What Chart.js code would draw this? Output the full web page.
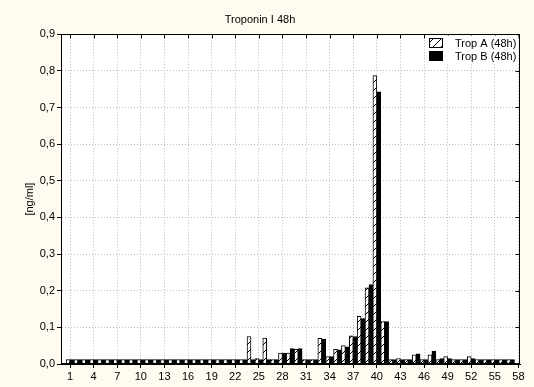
<!DOCTYPE html>
<html>
<head>
<meta charset="utf-8">
<script src="https://cdn.jsdelivr.net/npm/chart.js@4.4.1/dist/chart.umd.min.js"></script>
<style>
  html, body { margin: 0; padding: 0; background: #fffbf0; }
  #marcoGrafico { width: 534px; height: 387px; }
</style>
</head>
<body>
<div id="marcoGrafico"><canvas id="troponina" width="534" height="387"></canvas></div>
<script>
// datos
const pacientes = [
  1, 2, 3, 4, 5, 6, 7, 8, 9, 10, 11, 12, 13, 14, 15, 16, 17, 18, 19, 20,
  21, 22, 23, 24, 25, 26, 27, 28, 29, 30, 31, 32, 33, 34, 35, 36, 37, 38, 39, 40,
  41, 42, 43, 44, 45, 46, 47, 48, 49, 50, 51, 52, 53, 54, 55, 56, 57,
];
const tropA = [
  0.012, 0.012, 0.012, 0.012, 0.012, 0.012, 0.012, 0.012, 0.012, 0.012,
  0.012, 0.012, 0.012, 0.012, 0.012, 0.012, 0.012, 0.012, 0.012, 0.012,
  0.012, 0.012, 0.012, 0.075, 0.015, 0.071, 0.012, 0.03, 0.03, 0.04,
  0.012, 0.012, 0.07, 0.02, 0.04, 0.05, 0.077, 0.13, 0.208, 0.787,
  0.116, 0.012, 0.015, 0.012, 0.025, 0.012, 0.025, 0.012, 0.02, 0.012,
  0.012, 0.02, 0.012, 0.012, 0.012, 0.012, 0.012,
];
const tropB = [
  0.012, 0.012, 0.012, 0.012, 0.012, 0.012, 0.012, 0.012, 0.012, 0.012,
  0.012, 0.012, 0.012, 0.012, 0.012, 0.012, 0.012, 0.012, 0.012, 0.012,
  0.012, 0.012, 0.012, 0.012, 0.012, 0.012, 0.012, 0.03, 0.042, 0.042,
  0.012, 0.012, 0.068, 0.02, 0.039, 0.047, 0.075, 0.124, 0.217, 0.743,
  0.116, 0.012, 0.012, 0.012, 0.028, 0.012, 0.035, 0.015, 0.015, 0.012,
  0.012, 0.015, 0.012, 0.012, 0.012, 0.012, 0.012,
];
const ticksX = [1, 4, 7, 10, 13, 16, 19, 22, 25, 28, 31, 34, 37, 40, 43, 46, 49, 52, 55, 58];
const ticksY = ["0,0", "0,1", "0,2", "0,3", "0,4", "0,5", "0,6", "0,7", "0,8", "0,9"];

Chart.defaults.font.family = "'Liberation Sans', Arial, sans-serif";
Chart.defaults.font.size = 11;
Chart.defaults.color = "#000";

function rayado() {
  let c = document.createElement("canvas");
  c.width = 8;
  c.height = 8;
  let g = c.getContext("2d");
  g.fillStyle = "#fff";
  g.fillRect(0, 0, 8, 8);
  g.strokeStyle = "#000";
  g.lineWidth = 1;
  g.beginPath();
  g.moveTo(0, 8);
  g.lineTo(8, 0);
  g.stroke();
  return g.createPattern(c, "repeat");
}
const patronA = rayado();

// fondo blanco del area, marco completo y marcas interiores
const marco = {
  id: "marco",
  beforeDraw(chart) {
    let { ctx, chartArea: a } = chart;
    ctx.save();
    ctx.fillStyle = "#fff";
    ctx.fillRect(a.left, a.top, a.width, a.height);
    ctx.restore();
  },
  afterDraw(chart) {
    let { ctx, chartArea: a, scales } = chart;
    let l = Math.round(a.left) + 0.5;
    let t = Math.round(a.top) + 0.5;
    let r = Math.round(a.right) - 0.5;
    let b = Math.round(a.bottom) - 0.5;
    ctx.save();
    ctx.strokeStyle = "#000";
    ctx.lineWidth = 1;
    ctx.strokeRect(l, t, r - l, b - t);
    ctx.beginPath();
    ticksX.forEach((v) => {
      let x = Math.round(scales.x.getPixelForValue(v)) + 0.5;
      ctx.moveTo(x, t);
      ctx.lineTo(x, t + 4);
    });
    ticksY.forEach((s, i) => {
      let y = Math.round(scales.y.getPixelForValue(i / 10)) + 0.5;
      ctx.moveTo(r, y);
      ctx.lineTo(r - 4, y);
    });
    ctx.stroke();

    // leyenda
    let x0 = 428;
    ctx.fillStyle = "#fff";
    ctx.fillRect(x0 - 2, t + 1, r - x0 + 1, 28);
    chart.data.datasets.forEach((ds, i) => {
      let y = Math.round(t) + 3 + i * 13;
      ctx.fillStyle = ds.backgroundColor;
      ctx.fillRect(x0 + 1, y, 14, 10);
      ctx.strokeRect(x0 + 1.5, y + 0.5, 13, 9);
      ctx.fillStyle = "#000";
      ctx.font = "11px 'Liberation Sans', Arial, sans-serif";
      ctx.textBaseline = "middle";
      ctx.fillText(ds.label, x0 + 27, y + 5.5);
    });
    ctx.restore();
  },
};

function cargarGrafico() {
  let canvas = document.getElementById("troponina");

  let datos = {
    datasets: [
      {
        label: "Trop A (48h)",
        data: pacientes.map((p, i) => ({ x: p, y: tropA[i] })),
        backgroundColor: patronA,
        borderColor: "#000",
        borderWidth: 1,
        categoryPercentage: 1,
        barPercentage: 1,
      },
      {
        label: "Trop B (48h)",
        data: pacientes.map((p, i) => ({ x: p, y: tropB[i] })),
        backgroundColor: "#000",
        borderColor: "#000",
        borderWidth: 1,
        categoryPercentage: 1,
        barPercentage: 1,
      },
    ],
  };

  let config = {
    type: "bar",
    data: datos,
    plugins: [marco],
    options: {
      responsive: false,
      animation: false,
      layout: { padding: { left: 0, right: 14, top: 0, bottom: 0 } },
      plugins: {
        legend: { display: false },
        tooltip: { enabled: false },
        title: {
          display: true,
          text: "Troponin I 48h",
          color: "#000",
          font: { size: 11, weight: "normal" },
          padding: { top: 13, bottom: 8 },
        },
      },
      scales: {
        x: {
          type: "linear",
          min: -0.15,
          max: 58.2,
          offset: false,
          afterBuildTicks: (s) => {
            s.ticks = ticksX.map((v) => ({ value: v }));
          },
          afterFit: (s) => {
            s.height = 23;
          },
          ticks: {
            autoSkip: false,
            maxRotation: 0,
            padding: 2,
            color: "#000",
            callback: (v) => String(v),
          },
          grid: { color: "#bdbdbd", tickColor: "#000", tickLength: 4, offset: false },
          border: { color: "#000", dash: [1, 2] },
        },
        y: {
          min: 0,
          max: 0.9,
          afterBuildTicks: (s) => {
            s.ticks = ticksY.map((t, i) => ({ value: i / 10 }));
          },
          afterFit: (s) => {
            s.width = 61;
          },
          ticks: {
            padding: 2,
            color: "#000",
            callback: (v, i) => ticksY[i],
          },
          grid: { color: "#bdbdbd", tickColor: "#000", tickLength: 4 },
          border: { color: "#000", dash: [1, 2] },
          title: {
            display: true,
            text: "[ng/ml]",
            color: "#000",
            font: { size: 11 },
            padding: { top: 23, bottom: 0 },
          },
        },
      },
    },
  };

  new Chart(canvas, config);
}

document.addEventListener("DOMContentLoaded", () => {
  cargarGrafico();
});
</script>
</body>
</html>
